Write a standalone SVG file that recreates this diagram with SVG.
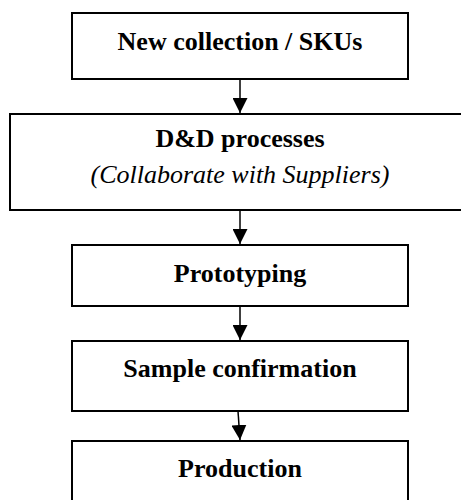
<svg xmlns="http://www.w3.org/2000/svg" width="461" height="500" viewBox="0 0 461 500">
<defs>
<marker id="ah" markerWidth="15" markerHeight="15" viewBox="0 0 15 15" refX="15" refY="7.5" orient="auto" markerUnits="userSpaceOnUse">
<path d="M0,0 L15,7.5 L0,15 Z" fill="#000"/>
</marker>
</defs>
<style>
.box{fill:#fff;stroke:#000;stroke-width:2}
.t{font-family:"Liberation Serif","Times New Roman",serif;font-size:26px;font-weight:bold;text-anchor:middle;fill:#000}
.i{font-family:"Liberation Serif","Times New Roman",serif;font-size:26px;font-style:italic;text-anchor:middle;fill:#000}
.c{stroke:#000;stroke-width:1.5;fill:none;marker-end:url(#ah)}
</style>
<rect width="461" height="500" fill="#fff"/>
<g id="n1"><rect class="box" x="72" y="13" width="336" height="66"/><text class="t" x="240" y="50">New collection / SKUs</text></g>
<g id="n2"><rect class="box" x="10" y="114" width="460" height="96"/><text class="t" x="240" y="147">D&amp;D processes</text><text class="i" x="240" y="183">(Collaborate with Suppliers)</text></g>
<g id="n3"><rect class="box" x="72" y="245" width="336" height="61"/><text class="t" x="240" y="282">Prototyping</text></g>
<g id="n4"><rect class="box" x="72" y="341" width="336" height="70"/><text class="t" x="240" y="377">Sample confirmation</text></g>
<g id="n5"><rect class="box" x="72" y="441" width="336" height="70"/><text class="t" x="240" y="477">Production</text></g>
<g id="connectors">
<line class="c" x1="240" y1="79" x2="240" y2="113"/>
<line class="c" x1="240" y1="210" x2="240" y2="244"/>
<line class="c" x1="240" y1="306" x2="240" y2="340"/>
<line class="c" x1="238" y1="411" x2="240" y2="440"/>
</g>
</svg>
